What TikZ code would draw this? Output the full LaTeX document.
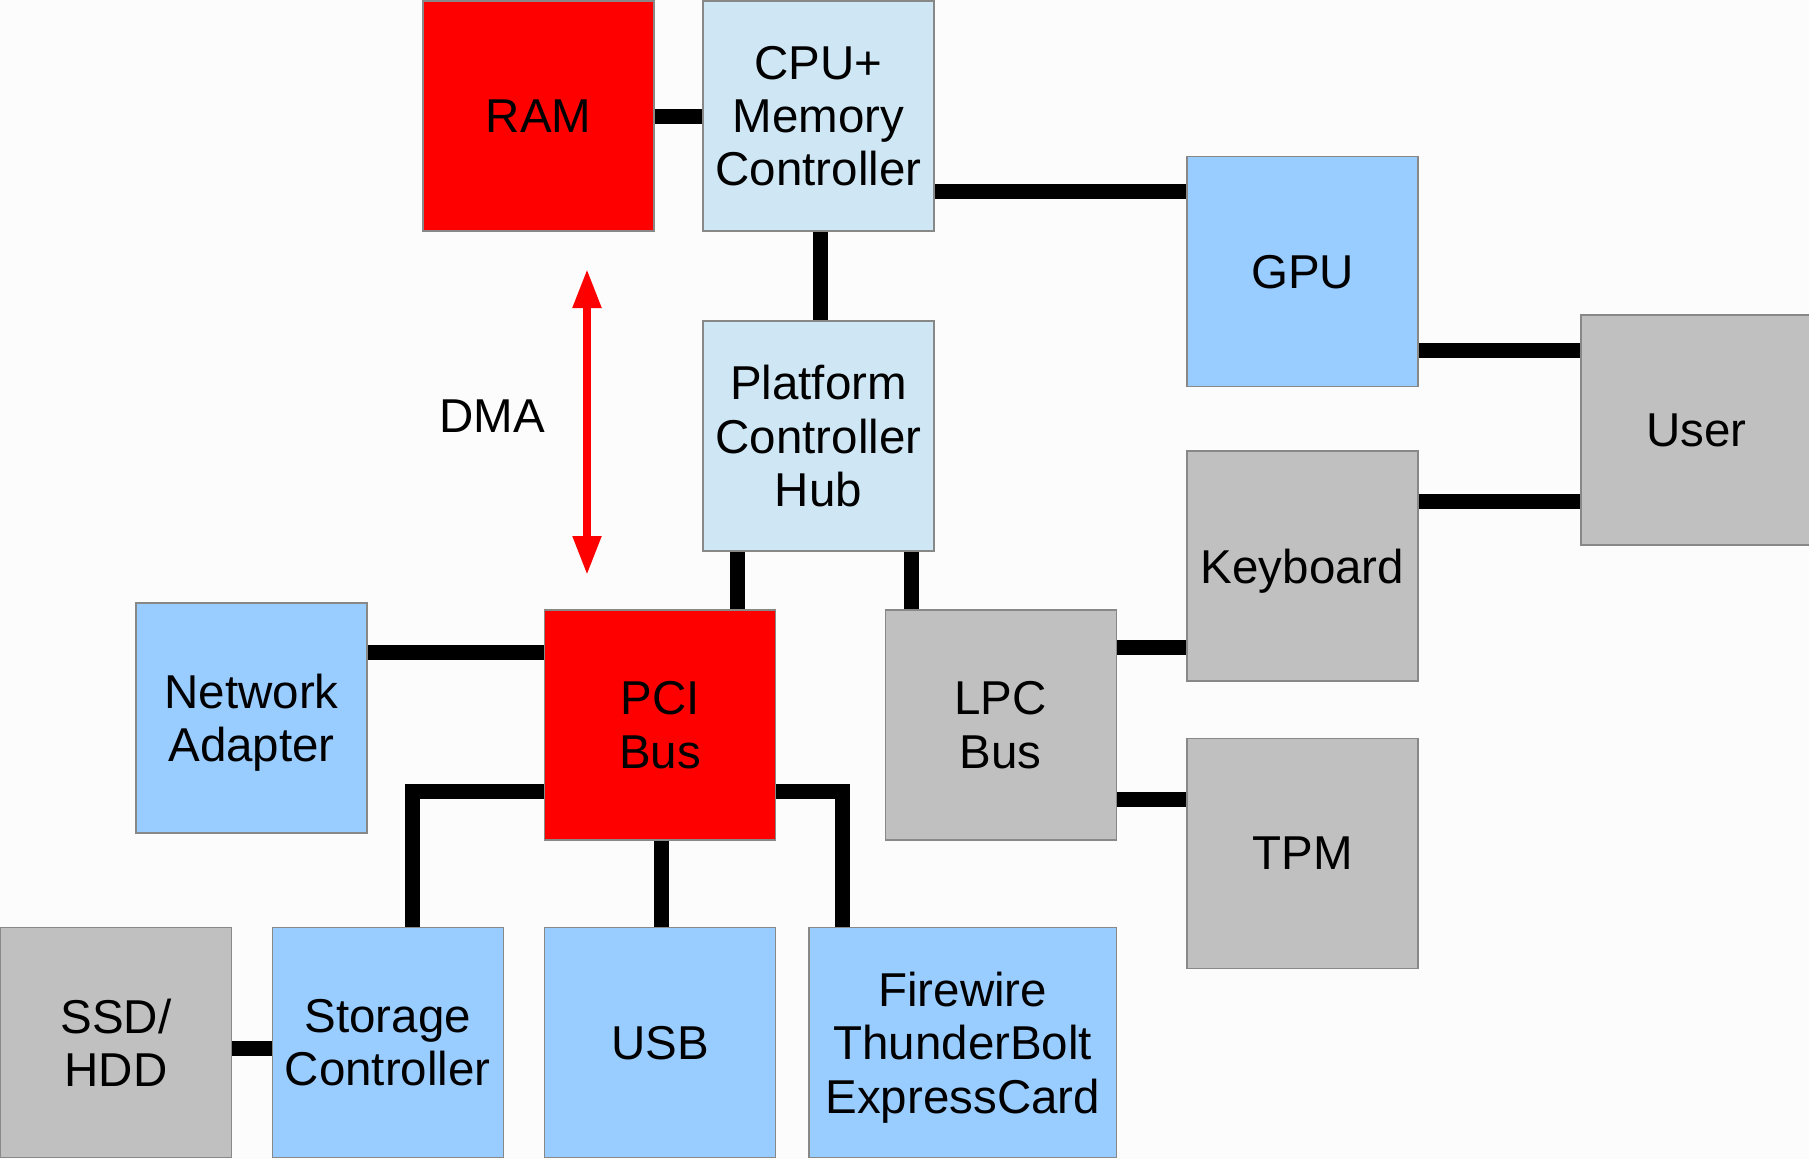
\documentclass[tikz,border=0pt]{standalone}
\usepackage{fontspec}
\setmainfont{Liberation Sans}
\usetikzlibrary{arrows.meta}
\definecolor{bgc}{RGB}{252,252,252}
\definecolor{redbox}{RGB}{255,0,0}
\definecolor{paleblue}{RGB}{207,231,245}
\definecolor{skyblue}{RGB}{153,204,255}
\definecolor{greybox}{RGB}{192,192,192}
\definecolor{edgec}{RGB}{136,136,136}
\tikzset{
 box/.style={draw=edgec, line width=1.5pt, minimum width=231pt, minimum height=230pt, inner sep=0pt, align=center, text depth=0pt, font=\fontsize{47.5}{53.3}\selectfont, text=black},
 redb/.style={box, fill=redbox},
 cpub/.style={box, fill=paleblue},
 blueb/.style={box, fill=skyblue},
 greyb/.style={box, fill=greybox},
 conn/.style={line width=15pt, black, line join=miter},
 dmaarrow/.style={draw=red, line width=8pt, {Triangle[width=27pt,length=39pt]}-{Triangle[width=27pt,length=39pt]}},
 lbl/.style={font=\fontsize{47.5}{53.3}\selectfont, inner sep=0pt, text depth=0pt}
}
\begin{document}
\begin{tikzpicture}[x=1pt,y=-1pt]
\useasboundingbox (0,0) rectangle (1809,1159);
\clip (0,0) rectangle (1809,1159);
\fill[bgc] (0,0) rectangle (1809,1159);

\node[redb] (ram) at (538.5,116) {RAM};
\node[cpub] (cpu) at (818.5,116) {CPU+\\Memory\\Controller};
\node[cpub] (pch) at (818.5,436) {Platform\\Controller\\Hub};
\node[blueb] (gpu) at (1302.5,271.5) {GPU};
\node[greyb] (user) at (1696.5,430) {User};
\node[greyb] (kbd) at (1302.5,566) {Keyboard};
\node[blueb] (net) at (251.5,717.75) {Network\\Adapter};
\node[redb] (pci) at (660,725) {PCI\\Bus};
\node[greyb] (lpc) at (1000.75,725) {LPC\\Bus};
\node[greyb] (tpm) at (1302.5,853.5) {TPM};
\node[greyb] (ssd) at (116,1042.5) {SSD/\\HDD};
\node[blueb] (stor) at (387.75,1042.5) {Storage\\Controller};
\node[blueb] (usb) at (660,1042.5) {USB};
\node[blueb, minimum width=307.5pt] (fw) at (962.75,1042.5) {Firewire\\ThunderBolt\\ExpressCard};
\node[lbl] (dmal) at (492,416) {DMA};

\draw[conn] (ram.east) -- (cpu.west);
\draw[conn] ([yshift=-75pt]cpu.east) -- ([yshift=80.5pt]gpu.west);
\draw[conn] ([xshift=1.5pt]cpu.south) -- ([xshift=1.5pt]pch.north);
\draw[conn] ([yshift=-78.5pt]gpu.east) -- ([yshift=80pt]user.west);
\draw[conn] ([yshift=65pt]kbd.east) -- ([yshift=-71pt]user.west);
\draw[conn] ([xshift=-81.5pt]pch.south) -- ([xshift=77pt]pci.north);
\draw[conn] ([xshift=92.5pt]pch.south) -- ([xshift=-89.75pt]lpc.north);
\draw[conn] ([yshift=65.75pt]net.east) -- ([yshift=73pt]pci.west);
\draw[conn] ([yshift=77.5pt]lpc.east) -- ([yshift=-81.5pt]kbd.west);
\draw[conn] ([yshift=-74pt]lpc.east) -- ([yshift=54.5pt]tpm.west);
\draw[conn] ([yshift=-66.5pt]pci.west) -| ([xshift=24.25pt]stor.north);
\draw[conn] ([xshift=1.5pt]pci.south) -- ([xshift=1.5pt]usb.north);
\draw[conn] ([yshift=-66.5pt]pci.east) -| ([xshift=-120.25pt]fw.north);
\draw[conn] ([yshift=-6pt]ssd.east) -- ([yshift=-6pt]stor.west);

\coordinate (dmatop) at (587,269);
\coordinate (dmabot) at (587,575);
\draw[dmaarrow] (dmatop) -- (dmabot);
\end{tikzpicture}
\end{document}
